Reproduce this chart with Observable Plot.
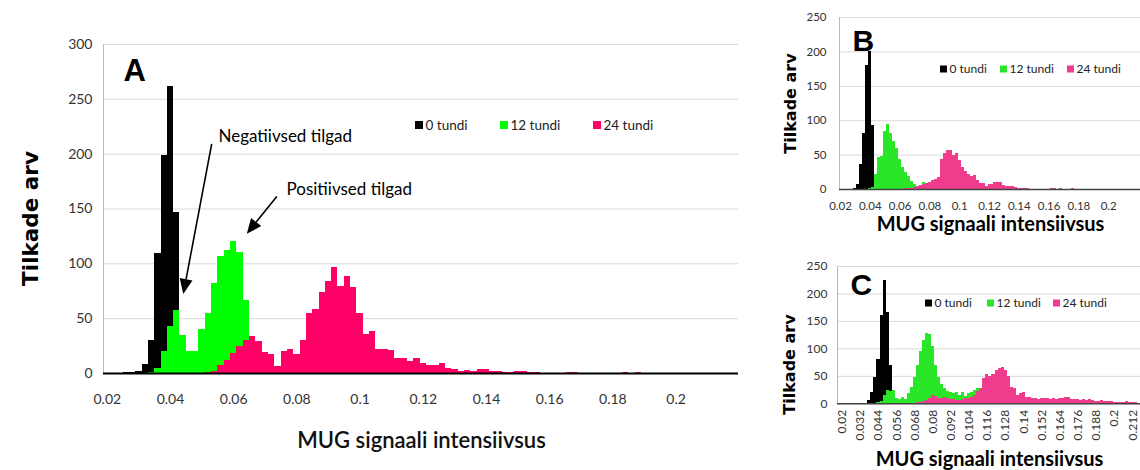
<!DOCTYPE html>
<html><head><meta charset="utf-8">
<script src="https://cdn.jsdelivr.net/npm/d3@7"></script>
<script src="https://cdn.jsdelivr.net/npm/@observablehq/plot@0.6"></script>
<style>
html,body{margin:0;padding:0;background:#fff;}
#fig{position:relative;width:1140px;height:470px;overflow:hidden;background:#fff;}
#fig > svg{position:absolute;}
</style></head><body><div id="fig"></div>
<script>
// ---- data ----
const seriesNames = ["0 tundi", "12 tundi", "24 tundi"];
const binStart = 0.02, binStep = 0.002;   // category bins: 0.020, 0.022, ...

// Panel A counts per bin (index 0 = 0.020)
const countsA0  = [0,0,0,1,1,2,8,30,109,199,262,147,8,2];
const countsA12 = [0,0,0,0,0,0,0,1,5,20,43,57,35,20,20,40,55,82,107,112,120,110,67,20,12,6,3,1];
const countsA24 = [0,0,0,0,0,0,0,0,0,0,0,0,0,0,0,0,
  1,2,7,12,18,25,30,34,29,19,17,6,20,22,17,30,55,58,74,84,97,79,88,78,55,36,38,22,22,21,
  14,14,11,14,9,7,7,9,5,4,2,3,2,4,4,2,2,1,1,2,2,1,1,0,0,0,0,1,1,0,0,0,0,0,0,0,1,0,1];

// Panel B
const countsB0  = [0,0,0,0,0,2,7,36,82,180,200,93,5];
const countsB12 = [0,0,0,0,0,0,0,0,0,0,1,3,22,46,48,85,95,82,70,60,44,32,24,19,12,7,3,3,10,5,2];
const countsB24 = [0,0,0,0,0,0,0,0,0,0,0,0,0,0,0,0,0,0,0,0,0,0,
  1,1,2,3,5,6,7,9,10,13,15,18,43,52,57,57,50,53,42,32,26,22,19,20,13,8,9,5,7,7,10,10,10,
  6,5,5,5,3,2,1,1,1,0,0,0,0,0,0,0,1,1,0,1,0,0,0,1];

// Panel C
const countsC0  = [0,0,0,0,0,0,0,0,1,6,20,48,81,160,224,167,70,8];
const countsC12 = [0,0,0,0,0,0,0,0,0,0,0,0,2,5,15,24,22,24,10,7,11,8,18,30,48,70,95,115,128,127,105,
  70,48,35,28,22,20,18,20,15,20,14,18,20,25,27,18,12,8,5,3];
const countsC24 = [0,0,0,0,0,0,0,0,0,0,0,0,0,0,0,0,0,0,0,0,0,0,0,0,
  1,2,3,4,6,10,15,13,10,9,12,9,7,8,6,6,7,9,10,12,15,22,28,46,53,50,53,61,65,67,61,49,30,27,
  15,18,21,12,12,10,9,8,9,10,9,8,9,8,9,10,12,11,8,7,7,6,7,6,7,6,5,5,6,5,5,4,3,3,2,3,4,3,2,2,1,1];

// tick labels
const xTicksAB = [0.02,0.04,0.06,0.08,0.1,0.12,0.14,0.16,0.18,0.2];
const xTicksC  = [0.02,0.032,0.044,0.056,0.068,0.08,0.092,0.104,0.116,0.128,0.14,0.152,0.164,0.176,0.188,0.2,0.212];
const yTicksA  = [0,50,100,150,200,250,300];
const yTicksBC = [0,50,100,150,200,250];

// text
const yTitle = "Tilkade arv";
const xTitle = "MUG signaali intensiivsus";
const noteNeg = "Negatiivsed tilgad";
const notePos = "Positiivsed tilgad";
// annotation arrows (data coordinates of panel A)
const arrowsA = [
  {x1: 0.0532, y1: 209, x2: 0.0442, y2: 72},
  {x1: 0.0738, y1: 161, x2: 0.0643, y2: 127}
];

const colorsA  = ["#000000", "#00ff00", "#ff0066"];
const colorsBC = ["#000000", "#29e629", "#f03c8c"];

// ---- helpers ----
function rows(list) {
  const out = [];
  list.forEach((counts, s) => counts.forEach((n, i) => {
    if (n > 0) out.push({s: seriesNames[s], x: binStart + i * binStep, n});
  }));
  return out;
}

function squaresMark(items) {
  return () => {
    const g = d3.create("svg:g");
    for (const it of items) {
      g.append("rect").attr("x", it.x).attr("y", it.y - it.size / 2)
        .attr("width", it.size).attr("height", it.size).attr("fill", it.color);
    }
    return g.node();
  };
}

function arrowsMark(arrows) {
  return (index, scales) => {
    const g = d3.create("svg:g");
    for (const a of arrows) {
      const x1 = scales.x(a.x1), y1 = scales.y(a.y1), x2 = scales.x(a.x2), y2 = scales.y(a.y2);
      const ang = Math.atan2(y2 - y1, x2 - x1);
      const L = 15, W = 6.5;
      const bx = x2 - L * Math.cos(ang), by = y2 - L * Math.sin(ang);
      g.append("line").attr("x1", x1).attr("y1", y1).attr("x2", bx).attr("y2", by)
        .attr("stroke", "#000").attr("stroke-width", 1.6);
      g.append("path").attr("fill", "#000").attr("d",
        `M${x2},${y2}L${bx + W * Math.sin(ang)},${by - W * Math.cos(ang)}L${bx - W * Math.sin(ang)},${by + W * Math.cos(ang)}Z`);
    }
    return g.node();
  };
}

function makePanel(cfg) {
  const {width, height, ml, mr, mt, mb, xDomain, yDomain, yTicks, xTicks, tickRotate,
         tickFont, yPad, xPad, counts, colors, axisStroke, axisWidth, extra} = cfg;
  const at = (x, y) => ({frameAnchor: "top-left", dx: x - ml, dy: y - mt});
  const svg = Plot.plot({
    width, height, marginLeft: ml, marginRight: mr, marginTop: mt, marginBottom: mb,
    x: {type: "linear", domain: xDomain},
    y: {type: "linear", domain: yDomain},
    color: {domain: seriesNames, range: colors},
    style: {fontFamily: "Lato, sans-serif", background: "transparent", overflow: "visible", color: "#333"},
    marks: [
      Plot.gridY(yTicks, {stroke: "#d9d9d9", strokeOpacity: 1, strokeWidth: 1}),
      Plot.rect(rows(counts), {
        x1: d => d.x - binStep / 2, x2: d => d.x + binStep / 2, y1: () => 0, y2: "n", fill: "s",
        shapeRendering: "crispEdges"
      }),
      Plot.ruleX([xDomain[0]], {stroke: "#b8b8b8", strokeWidth: 1}),
      Plot.ruleY([0], {stroke: axisStroke, strokeWidth: axisWidth}),
      Plot.axisY(yTicks, {tickSize: 0, tickPadding: yPad, fontSize: tickFont, label: null}),
      Plot.axisX(xTicks, {tickSize: 0, tickPadding: xPad, fontSize: tickFont, label: null,
        tickRotate: tickRotate || 0, tickFormat: d => String(d)}),
      ...extra(at)
    ]
  });
  return svg;
}

const fig = document.getElementById("fig");

// ---- Panel A ----
const svgA = makePanel({
  width: 760, height: 470, ml: 103, mr: 22, mt: 44, mb: 97,
  xDomain: [0.0188, 0.21975], yDomain: [0, 300],
  yTicks: yTicksA, xTicks: xTicksAB, tickFont: 14, yPad: 11, xPad: 21,
  counts: [countsA0, countsA12, countsA24], colors: colorsA,
  axisStroke: "#000", axisWidth: 2,
  extra: (at) => [
    Plot.text(["A"], {...at(123, 80), textAnchor: "start", lineAnchor: "bottom",
      fontFamily: "Liberation Sans, Arial, sans-serif", fontWeight: "bold", fontSize: 31, fill: "#000"}),
    Plot.text([noteNeg], {...at(218, 141), textAnchor: "start", lineAnchor: "bottom", fontSize: 17, fill: "#000"}),
    Plot.text([notePos], {...at(286, 194), textAnchor: "start", lineAnchor: "bottom", fontSize: 17, fill: "#000"}),
    arrowsMark(arrowsA),
    squaresMark([
      {x: 415, y: 125, size: 8, color: colorsA[0]},
      {x: 500, y: 125, size: 8, color: colorsA[1]},
      {x: 593, y: 125, size: 8, color: colorsA[2]}
    ]),
    Plot.text([seriesNames[0]], {...at(425, 125), textAnchor: "start", lineAnchor: "middle", fontSize: 13.5, fill: "#222"}),
    Plot.text([seriesNames[1]], {...at(510, 125), textAnchor: "start", lineAnchor: "middle", fontSize: 13.5, fill: "#222"}),
    Plot.text([seriesNames[2]], {...at(603, 125), textAnchor: "start", lineAnchor: "middle", fontSize: 13.5, fill: "#222"}),
    Plot.text([yTitle], {...at(31, 218), rotate: -90, textAnchor: "middle", lineAnchor: "middle",
      fontFamily: "DejaVu Sans, sans-serif", fontWeight: "bold", fontSize: 21.5, fill: "#000"}),
    Plot.text([xTitle], {...at(421, 440), textAnchor: "middle", lineAnchor: "middle", fontSize: 22, fontWeight: 600, fill: "#111"})
  ]
});
svgA.style.left = "0px"; svgA.style.top = "0px";
fig.appendChild(svgA);

// ---- Panel B ----
const svgB = makePanel({
  width: 380, height: 235, ml: 79, mr: 0, mt: 17, mb: 46,
  xDomain: [0.019329, 0.221342], yDomain: [0, 250],
  yTicks: yTicksBC, xTicks: xTicksAB, tickFont: 11.5, yPad: 13, xPad: 12,
  counts: [countsB0, countsB12, countsB24], colors: colorsBC,
  axisStroke: "#444", axisWidth: 1.5,
  extra: (at) => [
    Plot.text(["B"], {...at(92, 50), textAnchor: "start", lineAnchor: "bottom",
      fontFamily: "Liberation Sans, Arial, sans-serif", fontWeight: "bold", fontSize: 30, fill: "#000"}),
    squaresMark([
      {x: 180, y: 69, size: 7, color: colorsBC[0]},
      {x: 240, y: 69, size: 7, color: colorsBC[1]},
      {x: 307, y: 69, size: 7, color: colorsBC[2]}
    ]),
    Plot.text([seriesNames[0]], {...at(189, 69), textAnchor: "start", lineAnchor: "middle", fontSize: 12, fill: "#222"}),
    Plot.text([seriesNames[1]], {...at(249, 69), textAnchor: "start", lineAnchor: "middle", fontSize: 12, fill: "#222"}),
    Plot.text([seriesNames[2]], {...at(316, 69), textAnchor: "start", lineAnchor: "middle", fontSize: 12, fill: "#222"}),
    Plot.text([yTitle], {...at(30, 103), rotate: -90, textAnchor: "middle", lineAnchor: "middle",
      fontFamily: "DejaVu Sans, sans-serif", fontWeight: "bold", fontSize: 16, fill: "#000"}),
    Plot.text([xTitle], {...at(230, 224), textAnchor: "middle", lineAnchor: "middle", fontSize: 20, fontWeight: "bold", fill: "#000"})
  ]
});
svgB.style.left = "760px"; svgB.style.top = "0px";
fig.appendChild(svgB);

// ---- Panel C ----
const svgC = makePanel({
  width: 380, height: 235, ml: 77, mr: 0, mt: 31, mb: 66.7,
  xDomain: [0.016894, 0.217158], yDomain: [0, 250],
  yTicks: yTicksBC, xTicks: xTicksC, tickRotate: -90, tickFont: 12, yPad: 10, xPad: 6,
  counts: [countsC0, countsC12, countsC24], colors: colorsBC,
  axisStroke: "#444", axisWidth: 1.5,
  extra: (at) => [
    Plot.text(["C"], {...at(90, 59), textAnchor: "start", lineAnchor: "bottom",
      fontFamily: "Liberation Sans, Arial, sans-serif", fontWeight: "bold", fontSize: 30, fill: "#000"}),
    squaresMark([
      {x: 165, y: 68, size: 7, color: colorsBC[0]},
      {x: 227, y: 68, size: 7, color: colorsBC[1]},
      {x: 293, y: 68, size: 7, color: colorsBC[2]}
    ]),
    Plot.text([seriesNames[0]], {...at(174, 68), textAnchor: "start", lineAnchor: "middle", fontSize: 12, fill: "#222"}),
    Plot.text([seriesNames[1]], {...at(236, 68), textAnchor: "start", lineAnchor: "middle", fontSize: 12, fill: "#222"}),
    Plot.text([seriesNames[2]], {...at(302, 68), textAnchor: "start", lineAnchor: "middle", fontSize: 12, fill: "#222"}),
    Plot.text([yTitle], {...at(29, 129), rotate: -90, textAnchor: "middle", lineAnchor: "middle",
      fontFamily: "DejaVu Sans, sans-serif", fontWeight: "bold", fontSize: 16, fill: "#000"}),
    Plot.text([xTitle], {...at(229, 224), textAnchor: "middle", lineAnchor: "middle", fontSize: 20, fontWeight: "bold", fill: "#000"})
  ]
});
svgC.style.left = "760px"; svgC.style.top = "235px";
fig.appendChild(svgC);
</script></body></html>
